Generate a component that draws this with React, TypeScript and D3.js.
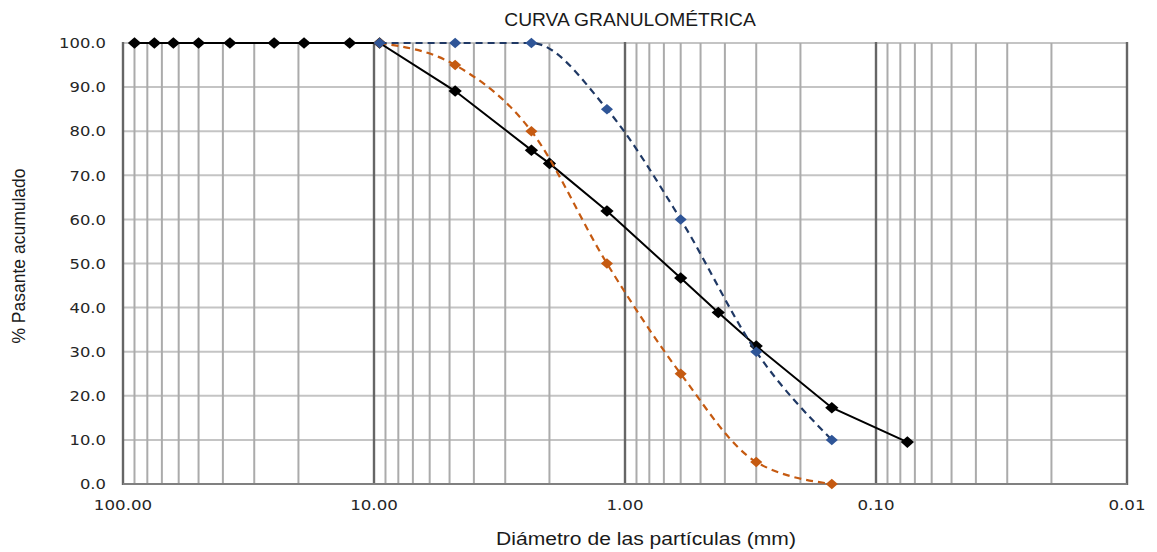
import React, { useEffect, useRef } from 'react';
import * as d3 from 'd3';

// tamices (mm) y % pasante acumulado
const sieveSizes = [90, 75, 63, 50, 37.5, 25, 19, 12.5, 9.5, 4.75, 2.36, 2.0, 1.18, 0.6, 0.425, 0.3, 0.15, 0.075];
const muestraPassing = [100, 100, 100, 100, 100, 100, 100, 100, 100, 89.1, 75.7, 72.7, 61.9, 46.7, 38.9, 31.3, 17.3, 9.5];

const limitSizes = [9.5, 4.75, 2.36, 1.18, 0.6, 0.3, 0.15];
const limiteInferior = [100, 95, 80, 50, 25, 5, 0];
const limiteSuperior = [100, 100, 100, 85, 60, 30, 10];

const xTickValues = [100, 10, 1, 0.1, 0.01];
const xTickLabels = ['100.00', '10.00', '1.00', '0.10', '0.01'];
const yTickValues = [0, 10, 20, 30, 40, 50, 60, 70, 80, 90, 100];

const App = () => {
  const chartRef = useRef<SVGSVGElement | null>(null);

  useEffect(() => {
    const width = 1157;
    const height = 552;
    const margin = { top: 43, right: 30, bottom: 68, left: 123 };

    const svg = d3.select(chartRef.current);
    svg.selectAll('*').remove();

    const xScale = d3.scaleLog().domain([100, 0.01]).range([margin.left, width - margin.right]);
    const yScale = d3.scaleLinear().domain([0, 100]).range([height - margin.bottom, margin.top]);

    const top = yScale(100);
    const bottom = yScale(0);
    const left = xScale(100);
    const right = xScale(0.01);

    // horizontal gridlines
    svg.append('g')
      .selectAll('line')
      .data(yTickValues)
      .enter()
      .append('line')
      .attr('x1', left)
      .attr('x2', right)
      .attr('y1', (d) => yScale(d))
      .attr('y2', (d) => yScale(d))
      .attr('stroke', '#c4c4c4')
      .attr('stroke-width', 2);

    // minor vertical gridlines
    const minors: number[] = [];
    [10, 1, 0.1, 0.01].forEach((dec) => {
      for (let k = 2; k <= 9; k++) minors.push(dec * k);
    });
    svg.append('g')
      .selectAll('line')
      .data(minors)
      .enter()
      .append('line')
      .attr('x1', (d) => xScale(d))
      .attr('x2', (d) => xScale(d))
      .attr('y1', top)
      .attr('y2', bottom)
      .attr('stroke', '#ababab')
      .attr('stroke-width', 2);

    // major (decade) lines
    svg.append('g')
      .selectAll('line')
      .data(xTickValues)
      .enter()
      .append('line')
      .attr('x1', (d) => xScale(d))
      .attr('x2', (d) => xScale(d))
      .attr('y1', top - 1)
      .attr('y2', bottom + 1)
      .attr('stroke', '#666666')
      .attr('stroke-width', 2.4);

    // bottom axis line
    svg.append('line')
      .attr('x1', left)
      .attr('x2', right)
      .attr('y1', bottom)
      .attr('y2', bottom)
      .attr('stroke', '#808080')
      .attr('stroke-width', 2.2);

    // tick labels (the reference is stretched sideways, so text is too)
    svg.append('g')
      .selectAll('text')
      .data(yTickValues)
      .enter()
      .append('text')
      .attr('transform', (d) => `translate(106, ${yScale(d)}) scale(1.13, 1)`)
      .attr('dy', '0.36em')
      .attr('text-anchor', 'end')
      .attr('font-family', 'DejaVu Sans')
      .attr('font-size', '14.5px')
      .attr('fill', '#262626')
      .text((d) => d.toFixed(1));

    svg.append('g')
      .selectAll('text')
      .data(xTickValues)
      .enter()
      .append('text')
      .attr('transform', (d) => `translate(${xScale(d)}, 510) scale(1.15, 1)`)
      .attr('text-anchor', 'middle')
      .attr('font-family', 'DejaVu Sans')
      .attr('font-size', '14.5px')
      .attr('fill', '#262626')
      .text((d, i) => xTickLabels[i]);

    // titles
    svg.append('text')
      .attr('transform', `translate(${(left + right) / 2 + 5}, 26) scale(1.1, 1)`)
      .attr('text-anchor', 'middle')
      .attr('font-family', 'Liberation Sans, Arial, sans-serif')
      .attr('font-size', '17.5px')
      .attr('fill', '#1a1a1a')
      .text('CURVA GRANULOMÉTRICA');

    svg.append('text')
      .attr('transform', `translate(646, 545) scale(1.14, 1)`)
      .attr('text-anchor', 'middle')
      .attr('font-family', 'Liberation Sans, Arial, sans-serif')
      .attr('font-size', '18.5px')
      .attr('fill', '#1a1a1a')
      .text('Diámetro de las partículas (mm)');

    svg.append('text')
      .attr('transform', `translate(25, 256) rotate(-90)`)
      .attr('text-anchor', 'middle')
      .attr('font-family', 'Liberation Sans, Arial, sans-serif')
      .attr('font-size', '17.5px')
      .attr('fill', '#1a1a1a')
      .text('% Pasante acumulado');

    const diamond = d3.symbol().type(d3.symbolDiamond2);

    const series = [
      { sizes: sieveSizes, values: muestraPassing, color: '#000000', marker: '#000000', dash: null, curve: d3.curveLinear, width: 2, msize: 85 },
      { sizes: limitSizes, values: limiteInferior, color: '#c55a11', marker: '#c55a11', dash: '7,5', curve: d3.curveMonotoneX, width: 2.2, msize: 70 },
      { sizes: limitSizes, values: limiteSuperior, color: '#1f3864', marker: '#2f5597', dash: '7,5', curve: d3.curveMonotoneX, width: 2.2, msize: 70 },
    ];

    series.forEach((s) => {
      const pts = s.sizes.map((d, i) => [d, s.values[i]] as [number, number]);
      const line = d3.line<[number, number]>()
        .x((d) => xScale(d[0]))
        .y((d) => yScale(d[1]))
        .curve(s.curve);

      svg.append('path')
        .datum(pts)
        .attr('d', line)
        .attr('fill', 'none')
        .attr('stroke', s.color)
        .attr('stroke-width', s.width)
        .attr('stroke-dasharray', s.dash);

      svg.append('g')
        .selectAll('path')
        .data(pts)
        .enter()
        .append('path')
        .attr('d', diamond.size(s.msize)())
        .attr('transform', (d) => `translate(${xScale(d[0])}, ${yScale(d[1])}) scale(1.15, 1)`)
        .attr('fill', s.marker);
    });
  }, []);

  return (
    <svg
      ref={chartRef}
      width={1157}
      height={552}
      style={{ position: 'absolute', left: 0, top: 0, background: '#fff' }}
    />
  );
};

export default App;
